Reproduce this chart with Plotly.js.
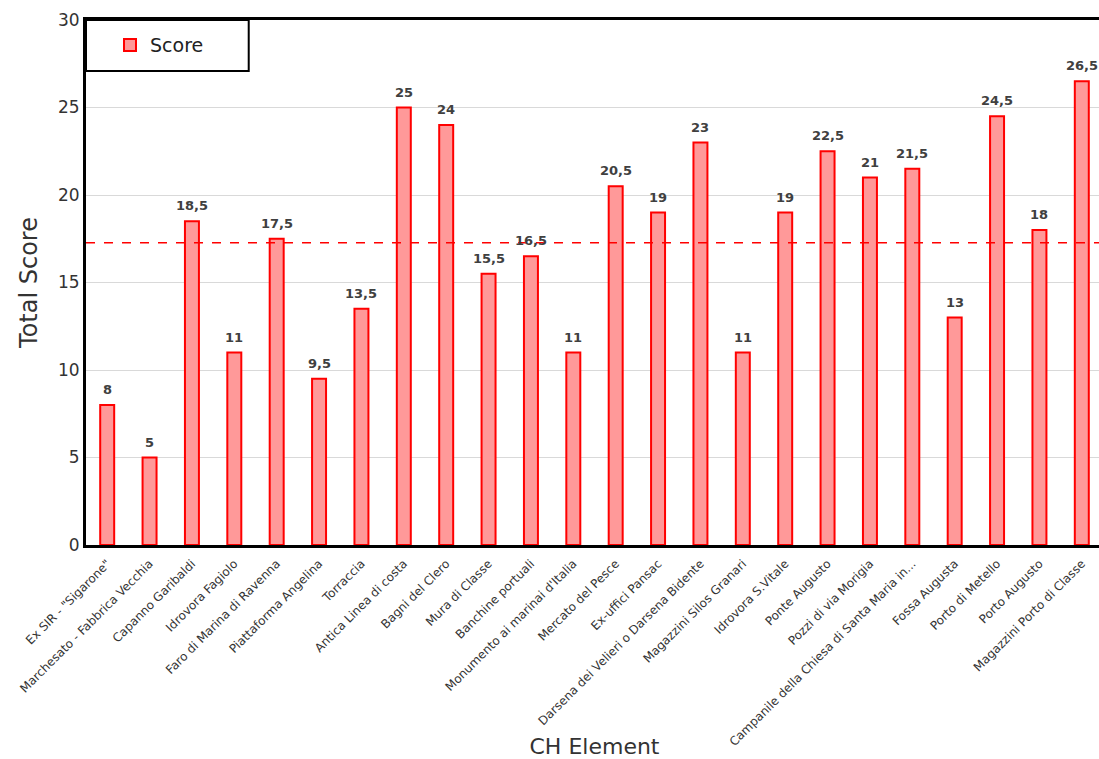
<!DOCTYPE html>
<html><head><meta charset="utf-8">
<script src="https://cdn.plot.ly/plotly-3.0.1.min.js"></script>
<style>html,body{margin:0;padding:0;overflow:hidden;background:#fff}#chart{width:1103px;height:759px}</style>
</head><body><div id="chart"></div>
<script>
const categories = ["Ex SIR - \"Sigarone\"","Marchesato - Fabbrica Vecchia","Capanno Garibaldi","Idrovora Fagiolo","Faro di Marina di Ravenna","Piattaforma Angelina","Torraccia","Antica Linea di costa","Bagni del Clero","Mura di Classe","Banchine portuali","Monumento ai marinai d'Italia","Mercato del Pesce","Ex-uffici Pansac","Darsena dei Velieri o Darsena Bidente","Magazzini Silos Granari","Idrovora S.Vitale","Ponte Augusto","Pozzi di via Morigia","Campanile della Chiesa di Santa Maria in...","Fossa Augusta","Porto di Metello","Porto Augusto","Magazzini Porto di Classe"];
const scores = [8,5,18.5,11,17.5,9.5,13.5,25,24,15.5,16.5,11,20.5,19,23,11,19,22.5,21,21.5,13,24.5,18,26.5];
const yTicks = [0,5,10,15,20,25,30];

const meanScore = scores.reduce((a,b)=>a+b,0)/scores.length;
const font = "DejaVu Sans, sans-serif";

const bars = {
  type:'bar', name:'Score', x:categories, y:scores,
  marker:{color:'#ff9999', line:{color:'#ff0000', width:2}},
  hoverinfo:'x+y'
};

const labels = categories.map((c,i)=>({
  x:c, y:scores[i], yref:'y', xref:'x', yanchor:'bottom', yshift:6,
  text: String(scores[i]).replace('.',','), showarrow:false,
  font:{family:font, size:13, color:'#404040', weight:'bold'}
}));

const layout = {
  width:1103, height:759,
  margin:{l:86, r:0, t:20, b:214},
  paper_bgcolor:'#fff', plot_bgcolor:'#fff',
  bargap:0.67,
  separators:',.',
  font:{family:font, color:'#404040'},
  xaxis:{
    type:'category', tickangle:-45, tickfont:{family:font, size:12, color:'#333'},
    showline:true, linecolor:'#000', linewidth:3, mirror:true, ticks:'outside', ticklen:4, tickcolor:'rgba(0,0,0,0)', showgrid:false,
    title:{text:'CH Element', font:{family:font, size:22, color:'#333'}, standoff:4},
    autorange:false, range:[-0.5, categories.length-0.5]
  },
  yaxis:{
    range:[0,30], tickvals:yTicks, tickfont:{family:font, size:17, color:'#333'},
    showline:true, linecolor:'#000', linewidth:3, mirror:true, ticks:'',
    gridcolor:'#d9d9d9', gridwidth:1, zeroline:false,
    title:{text:'Total Score', font:{family:font, size:24, color:'#333'}, standoff:14}
  },
  showlegend:true,
  legend:{x:0.0236, y:0.952, xanchor:'left', yanchor:'middle', bgcolor:'rgba(0,0,0,0)', borderwidth:0,
    font:{family:font, size:19, color:'#222'}},
  shapes:[
    {type:'rect', xref:'paper', yref:'paper', x0:0, x1:0.160, y0:0.903, y1:1,
      line:{color:'#000', width:2}, fillcolor:'#fff', layer:'above'},
    {type:'line', xref:'paper', yref:'y', x0:0, x1:1, y0:meanScore, y1:meanScore,
      line:{color:'#ff0000', width:1.5, dash:'dash'}, layer:'above'}
  ],
  annotations:labels
};
Plotly.newPlot('chart',[bars],layout,{displayModeBar:false, staticPlot:true});
</script></body></html>
